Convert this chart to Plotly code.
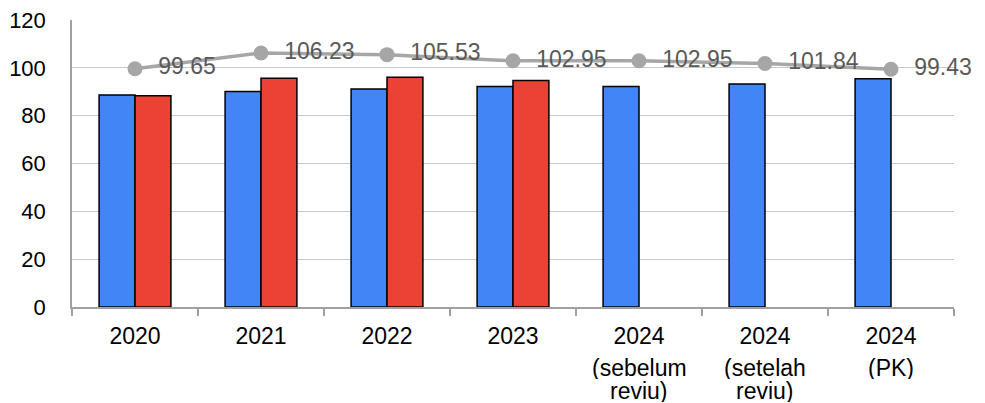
import plotly.graph_objects as go

categories = ["2020", "2021", "2022", "2023", "2024 (sebelum reviu)",
              "2024 (setelah reviu)", "2024 (PK)"]
tick_line1 = ["2020", "2021", "2022", "2023", "2024", "2024", "2024"]
tick_line2 = ["", "", "", "", "(sebelum", "(setelah", "(PK)"]
tick_line3 = ["", "", "", "", "reviu)", "reviu)", ""]
blue_values = [88.7, 90.1, 91.2, 92.2, 92.2, 93.2, 95.4]
red_values = [88.3, 95.7, 96.1, 94.7, None, None, None]
line_values = [99.65, 106.23, 105.53, 102.95, 102.95, 101.84, 99.43]
line_labels = ["99.65", "106.23", "105.53", "102.95", "102.95", "101.84", "99.43"]
y_ticks = [0, 20, 40, 60, 80, 100, 120]

FONT = "Liberation Sans, Arial, sans-serif"
FS = 23

fig = go.Figure()
fig.add_trace(go.Bar(x=categories, y=blue_values,
                     marker=dict(color="#4285f4", line=dict(color="#000000", width=1.5)),
                     showlegend=False))
fig.add_trace(go.Bar(x=categories, y=red_values,
                     marker=dict(color="#ea4335", line=dict(color="#000000", width=1.5)),
                     showlegend=False))
fig.add_trace(go.Scatter(x=categories, y=line_values, mode="lines+markers+text",
                         line=dict(color="#a6a6a6", width=3.5),
                         marker=dict(color="#a6a6a6", size=15),
                         text=["\u00a0\u00a0" + t for t in line_labels],
                         textposition="middle right",
                         textfont=dict(color="#595959", size=FS, family=FONT),
                         cliponaxis=False, showlegend=False))

annotations = []
for cat, l2, l3 in zip(categories, tick_line2, tick_line3):
    if l2:
        annotations.append(dict(x=cat, y=0, xref="x", yref="y", text=l2, showarrow=False,
                                yanchor="middle", yshift=-60, height=23,
                                font=dict(size=FS, family=FONT, color="#000000")))
    if l3:
        annotations.append(dict(x=cat, y=0, xref="x", yref="y", text=l3, showarrow=False,
                                yanchor="middle", yshift=-83, height=23,
                                font=dict(size=FS, family=FONT, color="#000000")))

fig.update_layout(
    width=985, height=403,
    margin=dict(l=64, r=39, t=12, b=104),
    paper_bgcolor="white", plot_bgcolor="white",
    barmode="group", bargap=0.43, bargroupgap=0,
    font=dict(family=FONT, size=FS, color="#000000"),
    xaxis=dict(showline=True, linecolor="#a0a0a0", linewidth=1.5,
               ticks="outside", tickcolor="#a0a0a0", ticklen=7, tickwidth=1.5,
               tickson="boundaries", showgrid=False, automargin=False,
               tickvals=categories, ticktext=tick_line1, ticklabelstandoff=8,
               tickfont=dict(size=FS, family=FONT, color="#000000")),
    yaxis=dict(range=[0, 120.01], tickvals=y_ticks, showline=True, linecolor="#a0a0a0", linewidth=1.5,
               gridcolor="#c8c8c8", gridwidth=1, zeroline=False, automargin=False,
               ticks="", ticklabelstandoff=20, ticklabeloverflow="allow",
               tickfont=dict(size=22, family=FONT, color="#000000")),
    annotations=annotations,
    shapes=[dict(type="line", xref="paper", yref="paper", x0=1.0326, x1=1.0326, y0=-0.4, y1=1.07,
                 line=dict(color="#a0a0a0", width=1.5))],
)

fig.write_html("out.html")
